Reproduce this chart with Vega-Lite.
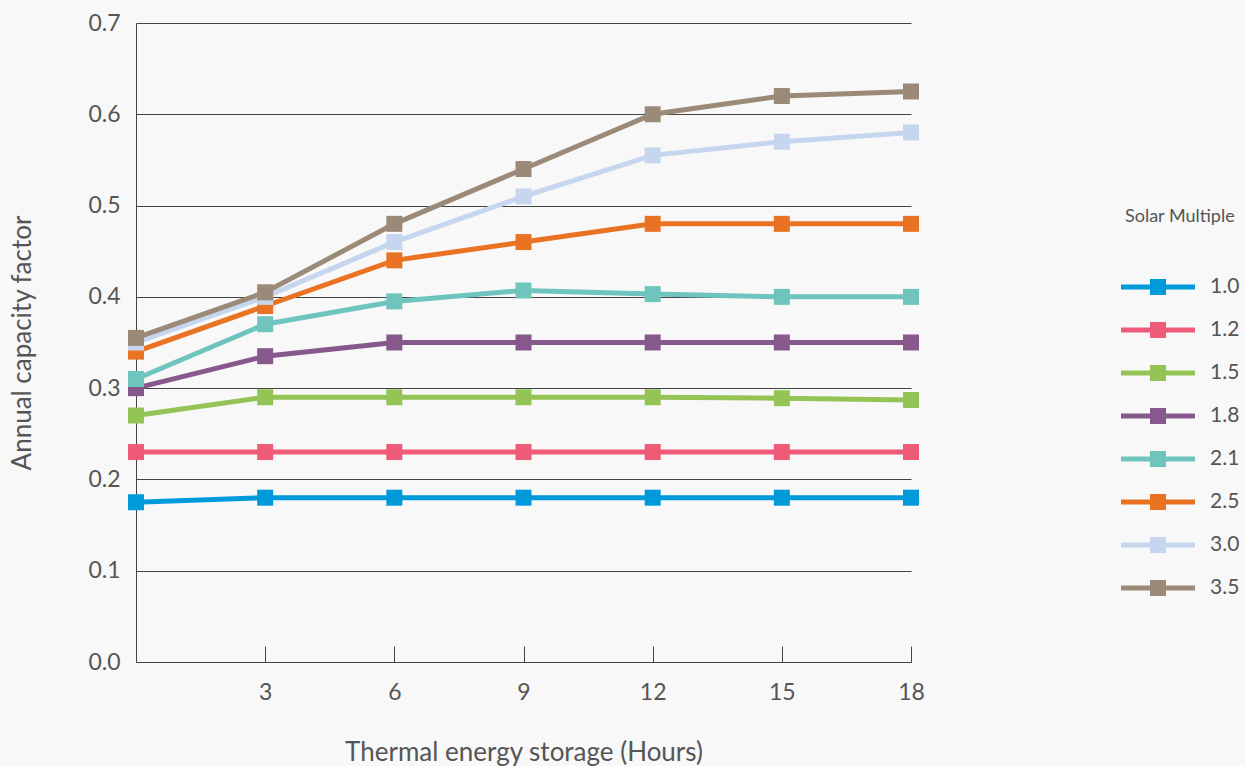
{
  "$schema": "https://vega.github.io/schema/vega-lite/v6.json",
  "width": 775,
  "height": 639,
  "autosize": {"type": "none"},
  "padding": {"left": 136, "top": 23, "right": 334, "bottom": 104},
  "background": "#f8f8f8",
  "config": {
    "font": "Lato",
    "view": {"stroke": null},
    "axis": {"labelFont": "Lato", "titleFont": "Lato", "labelColor": "#555555", "titleColor": "#555555", "titleFontWeight": "normal", "labelFontSize": 23, "titleFontSize": 26},
    "legend": {"titleFont": "Lato", "labelFont": "Lato"}
  },
  "data": {
    "values": [
      {"h": 0, "sm": "1.0", "cf": 0.175}, {"h": 3, "sm": "1.0", "cf": 0.18}, {"h": 6, "sm": "1.0", "cf": 0.18}, {"h": 9, "sm": "1.0", "cf": 0.18}, {"h": 12, "sm": "1.0", "cf": 0.18}, {"h": 15, "sm": "1.0", "cf": 0.18}, {"h": 18, "sm": "1.0", "cf": 0.18},
      {"h": 0, "sm": "1.2", "cf": 0.23}, {"h": 3, "sm": "1.2", "cf": 0.23}, {"h": 6, "sm": "1.2", "cf": 0.23}, {"h": 9, "sm": "1.2", "cf": 0.23}, {"h": 12, "sm": "1.2", "cf": 0.23}, {"h": 15, "sm": "1.2", "cf": 0.23}, {"h": 18, "sm": "1.2", "cf": 0.23},
      {"h": 0, "sm": "1.5", "cf": 0.27}, {"h": 3, "sm": "1.5", "cf": 0.29}, {"h": 6, "sm": "1.5", "cf": 0.29}, {"h": 9, "sm": "1.5", "cf": 0.29}, {"h": 12, "sm": "1.5", "cf": 0.29}, {"h": 15, "sm": "1.5", "cf": 0.289}, {"h": 18, "sm": "1.5", "cf": 0.287},
      {"h": 0, "sm": "1.8", "cf": 0.30}, {"h": 3, "sm": "1.8", "cf": 0.335}, {"h": 6, "sm": "1.8", "cf": 0.35}, {"h": 9, "sm": "1.8", "cf": 0.35}, {"h": 12, "sm": "1.8", "cf": 0.35}, {"h": 15, "sm": "1.8", "cf": 0.35}, {"h": 18, "sm": "1.8", "cf": 0.35},
      {"h": 0, "sm": "2.1", "cf": 0.31}, {"h": 3, "sm": "2.1", "cf": 0.37}, {"h": 6, "sm": "2.1", "cf": 0.395}, {"h": 9, "sm": "2.1", "cf": 0.407}, {"h": 12, "sm": "2.1", "cf": 0.403}, {"h": 15, "sm": "2.1", "cf": 0.40}, {"h": 18, "sm": "2.1", "cf": 0.40},
      {"h": 0, "sm": "2.5", "cf": 0.34}, {"h": 3, "sm": "2.5", "cf": 0.39}, {"h": 6, "sm": "2.5", "cf": 0.44}, {"h": 9, "sm": "2.5", "cf": 0.46}, {"h": 12, "sm": "2.5", "cf": 0.48}, {"h": 15, "sm": "2.5", "cf": 0.48}, {"h": 18, "sm": "2.5", "cf": 0.48},
      {"h": 0, "sm": "3.0", "cf": 0.35}, {"h": 3, "sm": "3.0", "cf": 0.40}, {"h": 6, "sm": "3.0", "cf": 0.46}, {"h": 9, "sm": "3.0", "cf": 0.51}, {"h": 12, "sm": "3.0", "cf": 0.555}, {"h": 15, "sm": "3.0", "cf": 0.57}, {"h": 18, "sm": "3.0", "cf": 0.58},
      {"h": 0, "sm": "3.5", "cf": 0.355}, {"h": 3, "sm": "3.5", "cf": 0.405}, {"h": 6, "sm": "3.5", "cf": 0.48}, {"h": 9, "sm": "3.5", "cf": 0.54}, {"h": 12, "sm": "3.5", "cf": 0.60}, {"h": 15, "sm": "3.5", "cf": 0.62}, {"h": 18, "sm": "3.5", "cf": 0.625}
    ]
  },
  "encoding": {
    "x": {
      "field": "h", "type": "quantitative",
      "scale": {"domain": [0, 18], "nice": false, "zero": true},
      "axis": {"values": [3, 6, 9, 12, 15, 18], "grid": false, "labelFlush": false, "domainColor": "#444444", "tickColor": "#444444", "tickSize": -16, "labelPadding": 35, "title": "Thermal energy storage (Hours)", "titlePadding": 35}
    },
    "y": {
      "field": "cf", "type": "quantitative",
      "scale": {"domain": [0, 0.7], "nice": false},
      "axis": {"values": [0, 0.1, 0.2, 0.3, 0.4, 0.5, 0.6, 0.7], "format": ".1f", "grid": true, "gridColor": "#444444", "gridWidth": 1, "gridOpacity": 1, "ticks": false, "labelFlush": false, "domainColor": "#444444", "labelPadding": 16, "title": "Annual capacity factor", "titlePadding": 52}
    },
    "color": {
      "field": "sm", "type": "nominal",
      "scale": {"domain": ["1.0", "1.2", "1.5", "1.8", "2.1", "2.5", "3.0", "3.5"], "range": ["#009ada", "#ee5a78", "#94c356", "#86588b", "#6fc5be", "#e97323", "#c6d6ee", "#9c8a78"]},
      "legend": {
        "title": "Solar Multiple", "orient": "none", "legendX": 989, "legendY": 185,
        "titleFontSize": 18, "titleFontWeight": "normal", "titleColor": "#555555", "titlePadding": 28,
        "labelFontSize": 21, "labelColor": "#555555", "labelOffset": 19,
        "symbolType": "M-1.121,-0.0758H1.121V0.0758H-1.121Z M-0.2424,-0.2424H0.2424V0.2424H-0.2424Z",
        "symbolSize": 4356, "symbolStrokeWidth": 0, "symbolOpacity": 1, "rowPadding": 0
      }
    }
  },
  "layer": [
    {
      "mark": {"type": "line", "strokeWidth": 5}
    },
    {
      "mark": {"type": "point", "shape": "square", "filled": true, "size": 256, "opacity": 1}
    }
  ]
}
